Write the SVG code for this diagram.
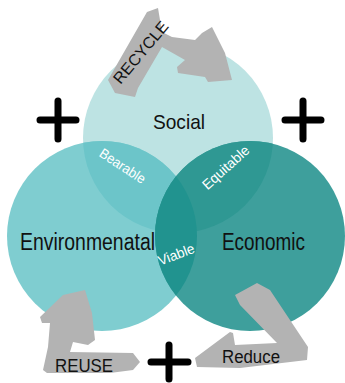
<svg xmlns="http://www.w3.org/2000/svg" width="345" height="383" viewBox="0 0 345 383">
<style>
.lbl{font-family:"Liberation Sans","DejaVu Sans",sans-serif;fill:#111;}
.sub{font-family:"Liberation Sans","DejaVu Sans",sans-serif;fill:#fff;font-size:14px;}
.arrow{fill:#b3b3b3;}
.plus{stroke:#000;stroke-width:7;stroke-linecap:round;fill:none;}
</style>
<defs>
<clipPath id="cS"><circle cx="178" cy="138" r="95"/></clipPath>
<clipPath id="cEnv"><circle cx="102" cy="236" r="95"/></clipPath>
<clipPath id="cEco"><circle cx="250" cy="236" r="95"/></clipPath>
</defs>
<rect width="345" height="383" fill="#fff"/>
<g id="social">
<circle cx="178" cy="138" r="95" fill="#bde3e3"/>
</g>
<g id="environmental">
<circle cx="102" cy="236" r="95" fill="#7fcdd0"/>
<circle cx="102" cy="236" r="95" fill="#6cc5c9" clip-path="url(#cS)"/>
</g>
<g id="economic">
<circle cx="250" cy="236" r="95" fill="#3e9f9c"/>
<circle cx="250" cy="236" r="95" fill="#2f9893" clip-path="url(#cS)"/>
<circle cx="250" cy="236" r="95" fill="#21938f" clip-path="url(#cEnv)"/>
</g>
<g id="connectors">
<path class="arrow" d="M108,80 L147,12 L158,8 L162,32 L172,37 L195,40 L202,33 L212,27 L225,53 L232,80 L208,82 L205,77 L178,73 L177,67 L185,60 L162,47 L138,88 L135,97 L115,93 Z"/>
<path class="arrow" d="M63,295 L85,290 L92,313 L95,340 L88,345 L73,342 L70,352 L133,353 L140,362 L133,370 L110,373 L47,373 L43,370 L48,347 L50,323 L42,323 L40,317 Z"/>
<path class="arrow" d="M257,283 L235,295 L240,305 L277,343 L235,345 L233,333 L230,332 L195,358 L197,367 L240,368 L307,360 L308,347 L270,290 Z"/>
</g>
<g id="labels">
<text class="lbl" x="179" y="129" font-size="21" text-anchor="middle" textLength="52" lengthAdjust="spacingAndGlyphs">Social</text>
<text class="lbl" x="20" y="250" font-size="23" textLength="135" lengthAdjust="spacingAndGlyphs">Environmenatal</text>
<text class="lbl" x="222" y="250" font-size="23" textLength="83" lengthAdjust="spacingAndGlyphs">Economic</text>
<text class="sub" transform="translate(120,170) rotate(33)" text-anchor="middle" textLength="52" lengthAdjust="spacingAndGlyphs">Bearable</text>
<text class="sub" transform="translate(229,171) rotate(-42)" text-anchor="middle" textLength="58" lengthAdjust="spacingAndGlyphs">Equitable</text>
<text class="sub" transform="translate(178,259) rotate(-21)" text-anchor="middle" textLength="38" lengthAdjust="spacingAndGlyphs">Viable</text>
<text class="lbl" transform="translate(145,56) rotate(-50)" text-anchor="middle" font-size="16" textLength="76" lengthAdjust="spacingAndGlyphs">RECYCLE</text>
<text class="lbl" x="55" y="372" font-size="18" textLength="58" lengthAdjust="spacingAndGlyphs">REUSE</text>
<text class="lbl" x="222" y="363" font-size="18" textLength="58" lengthAdjust="spacingAndGlyphs">Reduce</text>
</g>
<g id="plus-left"><path class="plus" d="M58,101 V139 M40,120 H76"/></g>
<g id="plus-right"><path class="plus" d="M303,101 V139 M285,120 H321"/></g>
<g id="plus-bottom"><path class="plus" d="M169,345 V379 M151,362 H188"/></g>
</svg>
